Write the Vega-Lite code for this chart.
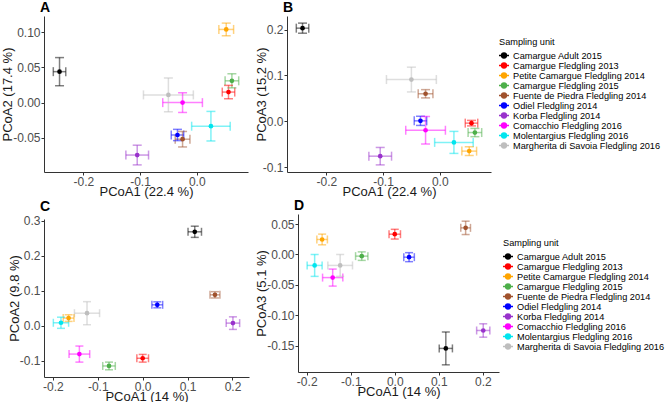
{
  "$schema": "https://vega.github.io/schema/vega-lite/v6.json",
  "padding": {"left": 1, "top": 1, "right": 0, "bottom": 0},
  "config": {
    "font": "Liberation Sans",
    "view": {"stroke": null},
    "locale": {"number": {"decimal": ".", "thousands": ",", "grouping": [3], "currency": ["$", ""], "minus": "-"}},
    "axis": {"grid": false, "labelOverlap": false, "tickCount": 10, "labelFont": "Liberation Sans", "labelFontSize": 12, "labelColor": "#4d4d4d", "titleFont": "Liberation Sans", "titleFontSize": 13, "titleFontWeight": "normal", "titleColor": "#1a1a1a", "domainColor": "#333333", "tickColor": "#333333", "tickSize": 3, "domainWidth": 1},
    "axisX": {"labelPadding": 1, "titlePadding": -1.5},
    "axisY": {"labelPadding": 1, "titlePadding": -2},
    "legend": {"titleFont": "Liberation Sans", "labelFont": "Liberation Sans", "titleFontSize": 9.2, "labelFontSize": 9.2, "titleFontWeight": "normal", "titleColor": "#000000", "labelColor": "#000000", "symbolOpacity": 1, "symbolSize": 64, "symbolStrokeWidth": 1.5, "rowPadding": 0, "clipHeight": 8.6, "titlePadding": 4, "labelOffset": 4, "padding": 0},
    "title": {"font": "Liberation Sans", "fontSize": 14, "fontWeight": "bold", "anchor": "start", "frame": "group", "offset": 1, "dx": -4, "color": "#000000"}
  },
  "datasets": {
    "A": [
      {"unit": "Camargue Adult 2015", "x": -0.242, "xlo": -0.253, "xhi": -0.231, "y": 0.044, "ylo": 0.024, "yhi": 0.064},
      {"unit": "Camargue Fledgling 2013", "x": 0.056, "xlo": 0.045, "xhi": 0.067, "y": 0.015, "ylo": 0.0055, "yhi": 0.0245},
      {"unit": "Petite Camargue Fledgling 2014", "x": 0.052, "xlo": 0.039, "xhi": 0.065, "y": 0.104, "ylo": 0.095, "yhi": 0.113},
      {"unit": "Camargue Fledgling 2015", "x": 0.062, "xlo": 0.050, "xhi": 0.074, "y": 0.031, "ylo": 0.021, "yhi": 0.041},
      {"unit": "Fuente de Piedra Fledgling 2014", "x": -0.025, "xlo": -0.038, "xhi": -0.012, "y": -0.052, "ylo": -0.063, "yhi": -0.041},
      {"unit": "Odiel Fledgling 2014", "x": -0.034, "xlo": -0.045, "xhi": -0.023, "y": -0.046, "ylo": -0.054, "yhi": -0.038},
      {"unit": "Korba Fledgling 2014", "x": -0.105, "xlo": -0.125, "xhi": -0.085, "y": -0.0745, "ylo": -0.0885, "yhi": -0.0605},
      {"unit": "Comacchio Fledgling 2016", "x": -0.025, "xlo": -0.060, "xhi": 0.010, "y": 0.0, "ylo": -0.014, "yhi": 0.014},
      {"unit": "Molentargius Fledgling 2016", "x": 0.025, "xlo": -0.009, "xhi": 0.059, "y": -0.0335, "ylo": -0.0545, "yhi": -0.0125},
      {"unit": "Margherita di Savoia Fledgling 2016", "x": -0.050, "xlo": -0.094, "xhi": -0.006, "y": 0.011, "ylo": -0.013, "yhi": 0.035}
    ],
    "B": [
      {"unit": "Camargue Adult 2015", "x": -0.242, "xlo": -0.253, "xhi": -0.231, "y": 0.203, "ylo": 0.192, "yhi": 0.214},
      {"unit": "Camargue Fledgling 2013", "x": 0.056, "xlo": 0.045, "xhi": 0.067, "y": -0.004, "ylo": -0.010, "yhi": 0.002},
      {"unit": "Petite Camargue Fledgling 2014", "x": 0.052, "xlo": 0.039, "xhi": 0.065, "y": -0.065, "ylo": -0.0745, "yhi": -0.0555},
      {"unit": "Camargue Fledgling 2015", "x": 0.062, "xlo": 0.050, "xhi": 0.074, "y": -0.0245, "ylo": -0.0335, "yhi": -0.0155},
      {"unit": "Fuente de Piedra Fledgling 2014", "x": -0.025, "xlo": -0.038, "xhi": -0.012, "y": 0.060, "ylo": 0.051, "yhi": 0.069},
      {"unit": "Odiel Fledgling 2014", "x": -0.034, "xlo": -0.045, "xhi": -0.023, "y": 0.001, "ylo": -0.009, "yhi": 0.011},
      {"unit": "Korba Fledgling 2014", "x": -0.105, "xlo": -0.125, "xhi": -0.085, "y": -0.076, "ylo": -0.095, "yhi": -0.057},
      {"unit": "Comacchio Fledgling 2016", "x": -0.025, "xlo": -0.060, "xhi": 0.010, "y": -0.0195, "ylo": -0.0495, "yhi": 0.0105},
      {"unit": "Molentargius Fledgling 2016", "x": 0.025, "xlo": -0.009, "xhi": 0.059, "y": -0.046, "ylo": -0.070, "yhi": -0.022},
      {"unit": "Margherita di Savoia Fledgling 2016", "x": -0.050, "xlo": -0.094, "xhi": -0.006, "y": 0.091, "ylo": 0.064, "yhi": 0.118}
    ],
    "C": [
      {"unit": "Camargue Adult 2015", "x": 0.116, "xlo": 0.101, "xhi": 0.131, "y": 0.269, "ylo": 0.253, "yhi": 0.285},
      {"unit": "Camargue Fledgling 2013", "x": 0.0, "xlo": -0.013, "xhi": 0.013, "y": -0.093, "ylo": -0.104, "yhi": -0.082},
      {"unit": "Petite Camargue Fledgling 2014", "x": -0.165, "xlo": -0.177, "xhi": -0.153, "y": 0.022, "ylo": 0.0125, "yhi": 0.0315},
      {"unit": "Camargue Fledgling 2015", "x": -0.075, "xlo": -0.089, "xhi": -0.061, "y": -0.115, "ylo": -0.126, "yhi": -0.104},
      {"unit": "Fuente de Piedra Fledgling 2014", "x": 0.161, "xlo": 0.150, "xhi": 0.172, "y": 0.0886, "ylo": 0.0796, "yhi": 0.0976},
      {"unit": "Odiel Fledgling 2014", "x": 0.0325, "xlo": 0.0205, "xhi": 0.0445, "y": 0.060, "ylo": 0.0514, "yhi": 0.0686},
      {"unit": "Korba Fledgling 2014", "x": 0.201, "xlo": 0.186, "xhi": 0.216, "y": 0.0076, "ylo": -0.0104, "yhi": 0.0256},
      {"unit": "Comacchio Fledgling 2016", "x": -0.141, "xlo": -0.164, "xhi": -0.118, "y": -0.081, "ylo": -0.104, "yhi": -0.058},
      {"unit": "Molentargius Fledgling 2016", "x": -0.182, "xlo": -0.199, "xhi": -0.165, "y": 0.0086, "ylo": -0.0074, "yhi": 0.0246},
      {"unit": "Margherita di Savoia Fledgling 2016", "x": -0.124, "xlo": -0.152, "xhi": -0.096, "y": 0.036, "ylo": 0.003, "yhi": 0.069}
    ],
    "D": [
      {"unit": "Camargue Adult 2015", "x": 0.116, "xlo": 0.101, "xhi": 0.131, "y": -0.1545, "ylo": -0.1815, "yhi": -0.1275},
      {"unit": "Camargue Fledgling 2013", "x": 0.0, "xlo": -0.013, "xhi": 0.013, "y": 0.0334, "ylo": 0.0254, "yhi": 0.0414},
      {"unit": "Petite Camargue Fledgling 2014", "x": -0.165, "xlo": -0.177, "xhi": -0.153, "y": 0.0247, "ylo": 0.0159, "yhi": 0.0335},
      {"unit": "Camargue Fledgling 2015", "x": -0.075, "xlo": -0.089, "xhi": -0.061, "y": -0.0027, "ylo": -0.0097, "yhi": 0.0043},
      {"unit": "Fuente de Piedra Fledgling 2014", "x": 0.161, "xlo": 0.150, "xhi": 0.172, "y": 0.0438, "ylo": 0.0328, "yhi": 0.0548},
      {"unit": "Odiel Fledgling 2014", "x": 0.0325, "xlo": 0.0205, "xhi": 0.0445, "y": -0.0044, "ylo": -0.0118, "yhi": 0.003},
      {"unit": "Korba Fledgling 2014", "x": 0.201, "xlo": 0.186, "xhi": 0.216, "y": -0.125, "ylo": -0.136, "yhi": -0.114},
      {"unit": "Comacchio Fledgling 2016", "x": -0.141, "xlo": -0.164, "xhi": -0.118, "y": -0.038, "ylo": -0.052, "yhi": -0.024},
      {"unit": "Molentargius Fledgling 2016", "x": -0.182, "xlo": -0.199, "xhi": -0.165, "y": -0.018, "ylo": -0.036, "yhi": 0.0},
      {"unit": "Margherita di Savoia Fledgling 2016", "x": -0.124, "xlo": -0.152, "xhi": -0.096, "y": -0.018, "ylo": -0.036, "yhi": 0.0}
    ]
  },
  "columns": 2,
  "align": "none",
  "spacing": {"row": 0, "column": 6},
  "resolve": {"scale": {"color": "independent"}, "legend": {"color": "independent"}},
  "concat": [
    {
      "title": "A",
      "width": 204, "height": 156,
      "data": {"name": "A"},
      "encoding": {
        "color": {"field": "unit", "type": "nominal", "legend": null,
          "scale": {"domain": ["Camargue Adult 2015", "Camargue Fledgling 2013", "Petite Camargue Fledgling 2014", "Camargue Fledgling 2015", "Fuente de Piedra Fledgling 2014", "Odiel Fledgling 2014", "Korba Fledgling 2014", "Comacchio Fledgling 2016", "Molentargius Fledgling 2016", "Margherita di Savoia Fledgling 2016"],
                    "range": ["#000000", "#ff0000", "#ffa500", "#4daf4a", "#a0522d", "#0000ff", "#9932cc", "#ff00ff", "#00e5ee", "#bebebe"]}
        }
      },
      "layer": [
        {"mark": {"type": "rule", "strokeWidth": 1.5, "opacity": 0.5},
         "encoding": {"x": {"field": "xlo", "type": "quantitative", "scale": {"domain": [-0.2694, 0.0904], "nice": false, "zero": false}, "axis": {"title": "PCoA1 (22.4 %)", "values": [-0.2, -0.1, 0.0], "format": ".1f"}},
                      "x2": {"field": "xhi"},
                      "y": {"field": "y", "type": "quantitative", "scale": {"domain": [-0.0986, 0.1231], "nice": false, "zero": false}, "axis": {"title": "PCoA2 (17.4 %)", "values": [-0.05, 0.0, 0.05, 0.10], "format": ".2f"}}}},
        {"mark": {"type": "rule", "strokeWidth": 1.5, "opacity": 0.5},
         "encoding": {"x": {"field": "x", "type": "quantitative"}, "y": {"field": "ylo", "type": "quantitative"}, "y2": {"field": "yhi"}}},
        {"mark": {"type": "tick", "orient": "vertical", "size": 9, "thickness": 1.5, "opacity": 0.5},
         "encoding": {"x": {"field": "xlo", "type": "quantitative"}, "y": {"field": "y", "type": "quantitative"}}},
        {"mark": {"type": "tick", "orient": "vertical", "size": 9, "thickness": 1.5, "opacity": 0.5},
         "encoding": {"x": {"field": "xhi", "type": "quantitative"}, "y": {"field": "y", "type": "quantitative"}}},
        {"mark": {"type": "tick", "orient": "horizontal", "size": 9, "thickness": 1.5, "opacity": 0.5},
         "encoding": {"x": {"field": "x", "type": "quantitative"}, "y": {"field": "ylo", "type": "quantitative"}}},
        {"mark": {"type": "tick", "orient": "horizontal", "size": 9, "thickness": 1.5, "opacity": 0.5},
         "encoding": {"x": {"field": "x", "type": "quantitative"}, "y": {"field": "yhi", "type": "quantitative"}}},
        {"mark": {"type": "point", "filled": true, "size": 22, "opacity": 1},
         "encoding": {"x": {"field": "x", "type": "quantitative"}, "y": {"field": "y", "type": "quantitative"}}}
      ]
    },
    {
      "title": "B",
      "width": 204, "height": 156,
      "data": {"name": "B"},
      "encoding": {
        "color": {"field": "unit", "type": "nominal", "title": "Sampling unit",
          "scale": {"domain": ["Camargue Adult 2015", "Camargue Fledgling 2013", "Petite Camargue Fledgling 2014", "Camargue Fledgling 2015", "Fuente de Piedra Fledgling 2014", "Odiel Fledgling 2014", "Korba Fledgling 2014", "Comacchio Fledgling 2016", "Molentargius Fledgling 2016", "Margherita di Savoia Fledgling 2016"],
                    "range": ["#000000", "#ff0000", "#ffa500", "#4daf4a", "#a0522d", "#0000ff", "#9932cc", "#ff00ff", "#00e5ee", "#bebebe"]},
          "legend": {"orient": "none", "legendX": 212, "legendY": 22,
            "encode": {"symbols": {"update": {"shape": {"value": "M-1.25,0L1.25,0M0.6,0A0.6,0.6,0,1,1,-0.6,0A0.6,0.6,0,1,1,0.6,0Z"}, "size": {"value": 64}, "stroke": {"signal": "['#000000','#ff0000','#ffa500','#4daf4a','#a0522d','#0000ff','#9932cc','#ff00ff','#00e5ee','#bebebe'][indexof(['Camargue Adult 2015','Camargue Fledgling 2013','Petite Camargue Fledgling 2014','Camargue Fledgling 2015','Fuente de Piedra Fledgling 2014','Odiel Fledgling 2014','Korba Fledgling 2014','Comacchio Fledgling 2016','Molentargius Fledgling 2016','Margherita di Savoia Fledgling 2016'], datum.value)]"}, "fill": {"signal": "['#000000','#ff0000','#ffa500','#4daf4a','#a0522d','#0000ff','#9932cc','#ff00ff','#00e5ee','#bebebe'][indexof(['Camargue Adult 2015','Camargue Fledgling 2013','Petite Camargue Fledgling 2014','Camargue Fledgling 2015','Fuente de Piedra Fledgling 2014','Odiel Fledgling 2014','Korba Fledgling 2014','Comacchio Fledgling 2016','Molentargius Fledgling 2016','Margherita di Savoia Fledgling 2016'], datum.value)]"}, "strokeWidth": {"value": 1.5}, "opacity": {"value": 1}}}}}
        }
      },
      "layer": [
        {"mark": {"type": "rule", "strokeWidth": 1.5, "opacity": 0.5},
         "encoding": {"x": {"field": "xlo", "type": "quantitative", "scale": {"domain": [-0.2694, 0.0904], "nice": false, "zero": false}, "axis": {"title": "PCoA1 (22.4 %)", "values": [-0.2, -0.1, 0.0], "format": ".1f"}},
                      "x2": {"field": "xhi"},
                      "y": {"field": "y", "type": "quantitative", "scale": {"domain": [-0.1105, 0.2295], "nice": false, "zero": false}, "axis": {"title": "PCoA3 (15.2 %)", "values": [-0.1, 0.0, 0.1, 0.2], "format": ".1f", "titlePadding": -6.5}}}},
        {"mark": {"type": "rule", "strokeWidth": 1.5, "opacity": 0.5},
         "encoding": {"x": {"field": "x", "type": "quantitative"}, "y": {"field": "ylo", "type": "quantitative"}, "y2": {"field": "yhi"}}},
        {"mark": {"type": "tick", "orient": "vertical", "size": 9, "thickness": 1.5, "opacity": 0.5},
         "encoding": {"x": {"field": "xlo", "type": "quantitative"}, "y": {"field": "y", "type": "quantitative"}}},
        {"mark": {"type": "tick", "orient": "vertical", "size": 9, "thickness": 1.5, "opacity": 0.5},
         "encoding": {"x": {"field": "xhi", "type": "quantitative"}, "y": {"field": "y", "type": "quantitative"}}},
        {"mark": {"type": "tick", "orient": "horizontal", "size": 9, "thickness": 1.5, "opacity": 0.5},
         "encoding": {"x": {"field": "x", "type": "quantitative"}, "y": {"field": "ylo", "type": "quantitative"}}},
        {"mark": {"type": "tick", "orient": "horizontal", "size": 9, "thickness": 1.5, "opacity": 0.5},
         "encoding": {"x": {"field": "x", "type": "quantitative"}, "y": {"field": "yhi", "type": "quantitative"}}},
        {"mark": {"type": "point", "filled": true, "size": 22, "opacity": 1},
         "encoding": {"x": {"field": "x", "type": "quantitative"}, "y": {"field": "y", "type": "quantitative"}}}
      ]
    },
    {
      "title": "C",
      "width": 205, "height": 158,
      "data": {"name": "C"},
      "encoding": {
        "color": {"field": "unit", "type": "nominal", "legend": null,
          "scale": {"domain": ["Camargue Adult 2015", "Camargue Fledgling 2013", "Petite Camargue Fledgling 2014", "Camargue Fledgling 2015", "Fuente de Piedra Fledgling 2014", "Odiel Fledgling 2014", "Korba Fledgling 2014", "Comacchio Fledgling 2016", "Molentargius Fledgling 2016", "Margherita di Savoia Fledgling 2016"],
                    "range": ["#000000", "#ff0000", "#ffa500", "#4daf4a", "#a0522d", "#0000ff", "#9932cc", "#ff00ff", "#00e5ee", "#bebebe"]}
        }
      },
      "layer": [
        {"mark": {"type": "rule", "strokeWidth": 1.5, "opacity": 0.5},
         "encoding": {"x": {"field": "xlo", "type": "quantitative", "scale": {"domain": [-0.2198, 0.2368], "nice": false, "zero": false}, "axis": {"title": "PCoA1 (14 %)", "values": [-0.2, -0.1, 0.0, 0.1, 0.2], "format": ".1f"}},
                      "x2": {"field": "xhi"},
                      "y": {"field": "y", "type": "quantitative", "scale": {"domain": [-0.1466, 0.3056], "nice": false, "zero": false}, "axis": {"title": "PCoA2 (9.8 %)", "values": [-0.1, 0.0, 0.1, 0.2, 0.3], "format": ".1f"}}}},
        {"mark": {"type": "rule", "strokeWidth": 1.5, "opacity": 0.5},
         "encoding": {"x": {"field": "x", "type": "quantitative"}, "y": {"field": "ylo", "type": "quantitative"}, "y2": {"field": "yhi"}}},
        {"mark": {"type": "tick", "orient": "vertical", "size": 8, "thickness": 1.5, "opacity": 0.5},
         "encoding": {"x": {"field": "xlo", "type": "quantitative"}, "y": {"field": "y", "type": "quantitative"}}},
        {"mark": {"type": "tick", "orient": "vertical", "size": 8, "thickness": 1.5, "opacity": 0.5},
         "encoding": {"x": {"field": "xhi", "type": "quantitative"}, "y": {"field": "y", "type": "quantitative"}}},
        {"mark": {"type": "tick", "orient": "horizontal", "size": 8, "thickness": 1.5, "opacity": 0.5},
         "encoding": {"x": {"field": "x", "type": "quantitative"}, "y": {"field": "ylo", "type": "quantitative"}}},
        {"mark": {"type": "tick", "orient": "horizontal", "size": 8, "thickness": 1.5, "opacity": 0.5},
         "encoding": {"x": {"field": "x", "type": "quantitative"}, "y": {"field": "yhi", "type": "quantitative"}}},
        {"mark": {"type": "point", "filled": true, "size": 22, "opacity": 1},
         "encoding": {"x": {"field": "x", "type": "quantitative"}, "y": {"field": "y", "type": "quantitative"}}}
      ]
    },
    {
      "title": "D",
      "width": 201, "height": 158,
      "data": {"name": "D"},
      "encoding": {
        "color": {"field": "unit", "type": "nominal", "title": "Sampling unit",
          "scale": {"domain": ["Camargue Adult 2015", "Camargue Fledgling 2013", "Petite Camargue Fledgling 2014", "Camargue Fledgling 2015", "Fuente de Piedra Fledgling 2014", "Odiel Fledgling 2014", "Korba Fledgling 2014", "Comacchio Fledgling 2016", "Molentargius Fledgling 2016", "Margherita di Savoia Fledgling 2016"],
                    "range": ["#000000", "#ff0000", "#ffa500", "#4daf4a", "#a0522d", "#0000ff", "#9932cc", "#ff00ff", "#00e5ee", "#bebebe"]},
          "legend": {"orient": "none", "legendX": 205, "legendY": 25,
            "encode": {"symbols": {"update": {"shape": {"value": "M-1.25,0L1.25,0M0.6,0A0.6,0.6,0,1,1,-0.6,0A0.6,0.6,0,1,1,0.6,0Z"}, "size": {"value": 64}, "stroke": {"signal": "['#000000','#ff0000','#ffa500','#4daf4a','#a0522d','#0000ff','#9932cc','#ff00ff','#00e5ee','#bebebe'][indexof(['Camargue Adult 2015','Camargue Fledgling 2013','Petite Camargue Fledgling 2014','Camargue Fledgling 2015','Fuente de Piedra Fledgling 2014','Odiel Fledgling 2014','Korba Fledgling 2014','Comacchio Fledgling 2016','Molentargius Fledgling 2016','Margherita di Savoia Fledgling 2016'], datum.value)]"}, "fill": {"signal": "['#000000','#ff0000','#ffa500','#4daf4a','#a0522d','#0000ff','#9932cc','#ff00ff','#00e5ee','#bebebe'][indexof(['Camargue Adult 2015','Camargue Fledgling 2013','Petite Camargue Fledgling 2014','Camargue Fledgling 2015','Fuente de Piedra Fledgling 2014','Odiel Fledgling 2014','Korba Fledgling 2014','Comacchio Fledgling 2016','Molentargius Fledgling 2016','Margherita di Savoia Fledgling 2016'], datum.value)]"}, "strokeWidth": {"value": 1.5}, "opacity": {"value": 1}}}}}
        }
      },
      "layer": [
        {"mark": {"type": "rule", "strokeWidth": 1.5, "opacity": 0.5},
         "encoding": {"x": {"field": "xlo", "type": "quantitative", "scale": {"domain": [-0.2198, 0.2368], "nice": false, "zero": false}, "axis": {"title": "PCoA1 (14 %)", "values": [-0.2, -0.1, 0.0, 0.1, 0.2], "format": ".1f"}},
                      "x2": {"field": "xhi"},
                      "y": {"field": "y", "type": "quantitative", "scale": {"domain": [-0.1933, 0.0666], "nice": false, "zero": false}, "axis": {"title": "PCoA3 (5.1 %)", "values": [-0.15, -0.10, -0.05, 0.0, 0.05], "format": ".2f"}}}},
        {"mark": {"type": "rule", "strokeWidth": 1.5, "opacity": 0.5},
         "encoding": {"x": {"field": "x", "type": "quantitative"}, "y": {"field": "ylo", "type": "quantitative"}, "y2": {"field": "yhi"}}},
        {"mark": {"type": "tick", "orient": "vertical", "size": 8, "thickness": 1.5, "opacity": 0.5},
         "encoding": {"x": {"field": "xlo", "type": "quantitative"}, "y": {"field": "y", "type": "quantitative"}}},
        {"mark": {"type": "tick", "orient": "vertical", "size": 8, "thickness": 1.5, "opacity": 0.5},
         "encoding": {"x": {"field": "xhi", "type": "quantitative"}, "y": {"field": "y", "type": "quantitative"}}},
        {"mark": {"type": "tick", "orient": "horizontal", "size": 8, "thickness": 1.5, "opacity": 0.5},
         "encoding": {"x": {"field": "x", "type": "quantitative"}, "y": {"field": "ylo", "type": "quantitative"}}},
        {"mark": {"type": "tick", "orient": "horizontal", "size": 8, "thickness": 1.5, "opacity": 0.5},
         "encoding": {"x": {"field": "x", "type": "quantitative"}, "y": {"field": "yhi", "type": "quantitative"}}},
        {"mark": {"type": "point", "filled": true, "size": 22, "opacity": 1},
         "encoding": {"x": {"field": "x", "type": "quantitative"}, "y": {"field": "y", "type": "quantitative"}}}
      ]
    }
  ]
}
